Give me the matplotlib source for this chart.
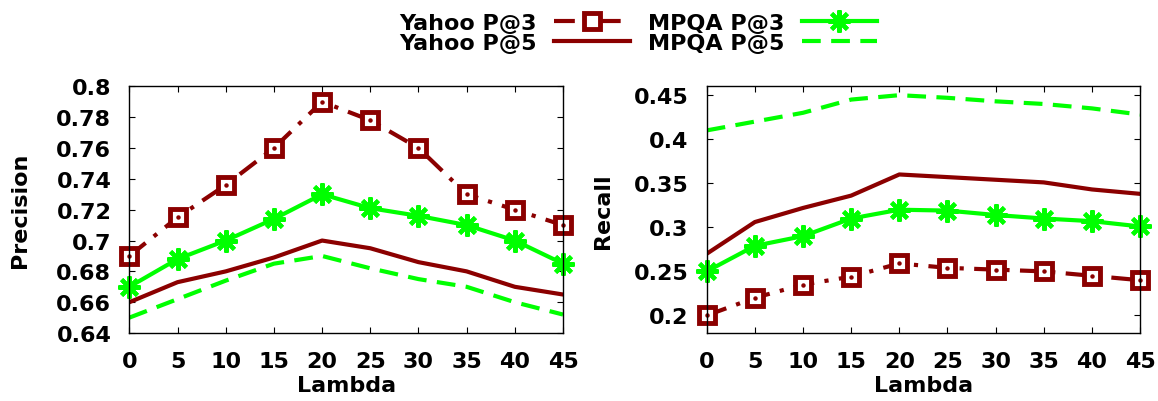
import matplotlib
matplotlib.use("Agg")
import matplotlib.pyplot as plt

plt.rcParams['font.family'] = ['DejaVu Sans']
plt.rcParams['font.weight'] = 'bold'

lambdas = [0, 5, 10, 15, 20, 25, 30, 35, 40, 45]

# Precision
prec_yahoo_p3 = [0.69, 0.715, 0.736, 0.76, 0.79, 0.778, 0.76, 0.73, 0.72, 0.71]
prec_mpqa_p3 = [0.67, 0.688, 0.70, 0.714, 0.73, 0.721, 0.716, 0.71, 0.70, 0.685]
prec_yahoo_p5 = [0.66, 0.673, 0.68, 0.689, 0.70, 0.695, 0.686, 0.68, 0.67, 0.665]
prec_mpqa_p5 = [0.65, 0.662, 0.674, 0.685, 0.69, 0.682, 0.675, 0.67, 0.66, 0.652]

# Recall
rec_yahoo_p3 = [0.20, 0.22, 0.235, 0.244, 0.259, 0.254, 0.252, 0.25, 0.245, 0.24]
rec_mpqa_p3 = [0.25, 0.279, 0.29, 0.31, 0.32, 0.319, 0.314, 0.31, 0.307, 0.301]
rec_yahoo_p5 = [0.27, 0.306, 0.322, 0.336, 0.36, 0.357, 0.354, 0.351, 0.343, 0.338]
rec_mpqa_p5 = [0.41, 0.42, 0.43, 0.445, 0.45, 0.447, 0.443, 0.44, 0.435, 0.428]

prec_ticks = [0.64, 0.66, 0.68, 0.70, 0.72, 0.74, 0.76, 0.78, 0.80]
prec_ticklabels = ['0.64', '0.66', '0.68', '0.7', '0.72', '0.74', '0.76', '0.78', '0.8']
rec_ticks = [0.20, 0.25, 0.30, 0.35, 0.40, 0.45]
rec_ticklabels = ['0.2', '0.25', '0.3', '0.35', '0.4', '0.45']

series_labels = ['Yahoo P@3', 'Yahoo P@5', 'MPQA P@3', 'MPQA P@5']

RED = '#8b0000'
GREEN = '#00ff00'
LW = 3.0
FS = 16

fig = plt.figure(figsize=(11.58, 4.02), dpi=100)
axL = fig.add_axes([0.1117, 0.169, 0.3745, 0.6137])
axR = fig.add_axes([0.6103, 0.169, 0.3742, 0.6137])

def draw(ax, y3, y5, m3, m5):
    h1, = ax.plot(lambdas, y3, color=RED, lw=LW, ls=(0, (5, 2.5, 1, 2.5)),
                  marker='s', ms=11, mfc='white', mec=RED, mew=3.5, label=series_labels[0])
    dots, = ax.plot(lambdas, y3, ls='none', marker='o', ms=2.2, color=RED)
    h2, = ax.plot(lambdas, y5, color=RED, lw=LW, ls='-', label=series_labels[1])
    h3, = ax.plot(lambdas, m3, color=GREEN, lw=LW, ls='-',
                  marker=(8, 2, 0), ms=16, mew=3.0, mec=GREEN, label=series_labels[2])
    h4, = ax.plot(lambdas, m5, color=GREEN, lw=LW, ls=(0, (4.5, 2.5)), label=series_labels[3])
    ax.set_xlim(0, 45)
    ax.set_xticks(lambdas)
    ax.tick_params(direction='in', top=True, right=True, length=4, width=0.8,
                   labelsize=FS, pad=13)
    for lab in ax.get_xticklabels() + ax.get_yticklabels():
        lab.set_fontweight('bold')
    ax.set_xlabel('Lambda', fontsize=FS, fontweight='bold')
    ax.xaxis.set_label_coords(0.5, -0.172)
    for s in ax.spines.values():
        s.set_linewidth(1.0)
    for h in (h1, dots, h3):
        h.set_clip_on(False)
    return [h1, h2, h3, h4]

handles = draw(axL, prec_yahoo_p3, prec_yahoo_p5, prec_mpqa_p3, prec_mpqa_p5)
axL.set_ylim(0.64, 0.80)
axL.set_yticks(prec_ticks)
axL.set_yticklabels(prec_ticklabels, fontsize=FS, fontweight='bold')
axL.set_ylabel('Precision', fontsize=FS, fontweight='bold')
axL.yaxis.set_label_coords(-0.228, 0.5)

draw(axR, rec_yahoo_p3, rec_yahoo_p5, rec_mpqa_p3, rec_mpqa_p5)
axR.set_ylim(0.18, 0.46)
axR.set_yticks(rec_ticks)
axR.set_yticklabels(rec_ticklabels, fontsize=FS, fontweight='bold')
axR.set_ylabel('Recall', fontsize=FS, fontweight='bold')
axR.yaxis.set_label_coords(-0.216, 0.5)

leg = fig.legend(handles=handles, labels=series_labels, ncol=2, loc='center',
                 bbox_to_anchor=(0.551, 0.915), frameon=False, markerfirst=False,
                 prop={'size': 16, 'weight': 'bold'}, handlelength=3.4,
                 labelspacing=0.0, columnspacing=0.8, handletextpad=0.8,
                 borderpad=0)

fig.savefig('out.png', dpi=100)
